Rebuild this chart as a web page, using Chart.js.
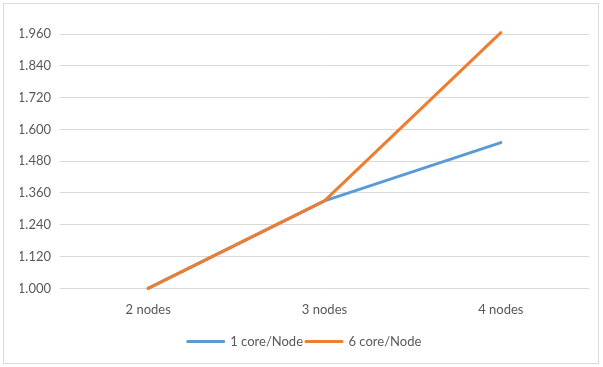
<!DOCTYPE html>
<html>
<head>
<meta charset="utf-8">
<script src="https://cdn.jsdelivr.net/npm/chart.js@4/dist/chart.umd.min.js"></script>
<style>
  html, body { margin: 0; padding: 0; background: #fff; }
  #wrap { position: absolute; left: 0; top: 0; width: 603px; height: 367px; }
  #frame { position: absolute; left: 3px; top: 3px; width: 596px; height: 361px; border: 1px solid #d9d9d9; box-sizing: border-box; }
</style>
</head>
<body>
<div id="wrap">
  <div id="frame"></div>
  <canvas id="speedup" width="603" height="367"></canvas>
</div>
<script>
var categories = ["2 nodes", "3 nodes", "4 nodes"];
var oneCore = [1.000, 1.330, 1.550];
var sixCore = [1.000, 1.330, 1.965];
var yMin = 1.0, yMax = 1.96, yStep = 0.12;

var ctx = document.getElementById("speedup").getContext('2d');

var speedup = new Chart(ctx, {
    type: 'line',
    data: {
        labels: categories,
        datasets: [{
            label: '1 core/Node',
            data: oneCore,
            order: 2, // draw under the orange line
            fill: false,
            borderColor: '#5B9BD5',
            backgroundColor: '#5B9BD5',
            borderWidth: 3,
            pointRadius: 0,
            clip: false,
            borderCapStyle: 'round',
            borderJoinStyle: 'round'
        }, {
            label: '6 core/Node',
            data: sixCore,
            order: 1,
            fill: false,
            borderColor: '#ED7D31',
            backgroundColor: '#ED7D31',
            borderWidth: 3,
            pointRadius: 0,
            clip: false,
            borderCapStyle: 'round',
            borderJoinStyle: 'round'
        }]
    },
    options: {
        responsive: false,
        animation: false,
        layout: { padding: { top: 34, right: 14, bottom: 9, left: 20 } },
        plugins: {
            tooltip: { enabled: false },
            legend: {
                position: 'bottom',
                labels: {
                    usePointStyle: true,
                    pointStyle: 'line',
                    pointStyleWidth: 36,
                    color: '#595959',
                    font: { family: 'Lato', size: 13 },
                    padding: 3,
                    sort: function (a, b) { return a.datasetIndex - b.datasetIndex; },
                    generateLabels: function (chart) {
                        var items = Chart.defaults.plugins.legend.labels.generateLabels(chart);
                        items.forEach(function (it) { it.lineWidth = 3; it.lineCap = 'round'; });
                        return items;
                    }
                }
            }
        },
        scales: {
            x: {
                offset: true,
                grid: { display: false, drawTicks: false },
                border: { display: false },
                ticks: { color: '#595959', font: { family: 'Lato', size: 13 }, padding: 14 }
            },
            y: {
                min: yMin,
                max: yMax,
                afterFit: function (scale) { scale.width = 40; },
                grid: { color: '#d9d9d9', lineWidth: 1, drawTicks: false },
                border: { display: false },
                ticks: {
                    stepSize: yStep,
                    color: '#595959',
                    font: { family: 'Lato', size: 13 },
                    padding: 9,
                    callback: function (v) { return v.toFixed(3); }
                }
            }
        }
    }
});
</script>
</body>
</html>
